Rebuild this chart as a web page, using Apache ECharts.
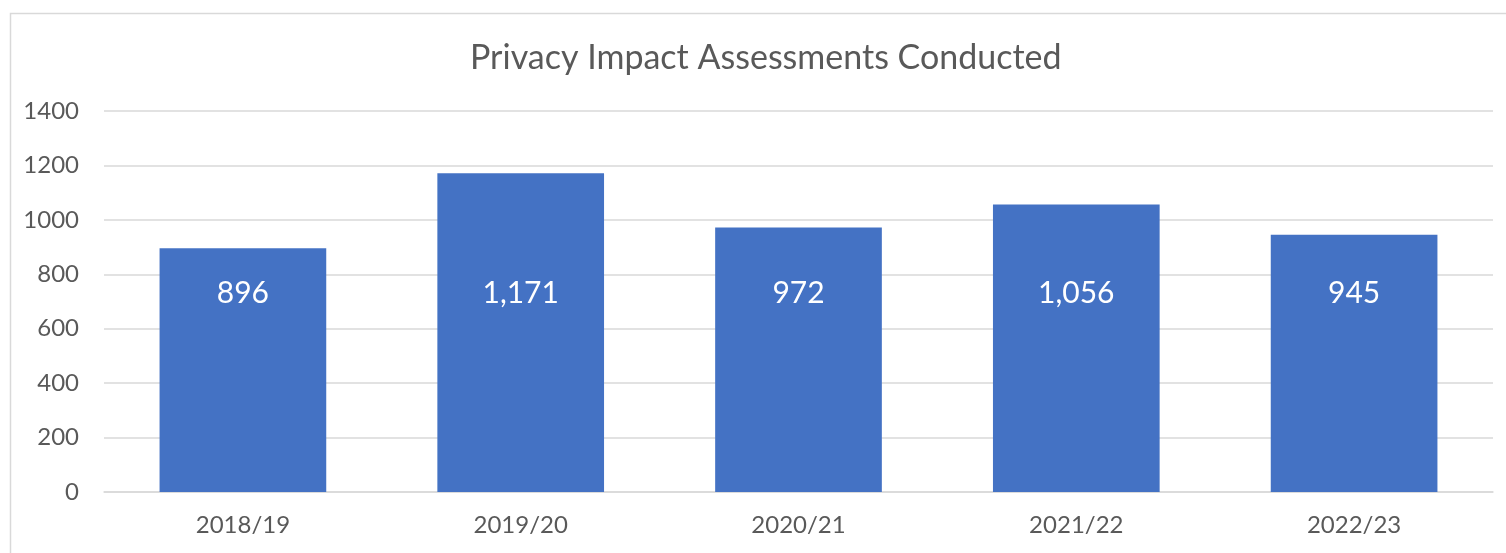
<!DOCTYPE html>
<html>
<head>
<meta charset="utf-8">
<script src="https://cdn.jsdelivr.net/npm/echarts@6/dist/echarts.min.js"></script>
<style>
  html, body { margin: 0; padding: 0; background: #fff; }
  #chart { width: 1506px; height: 553px; }
</style>
</head>
<body>
<div id="chart"></div>
<script>
// Privacy impact assessments by financial year
const years = ['2018/19', '2019/20', '2020/21', '2021/22', '2022/23'];
const assessments = [896, 1171, 972, 1056, 945];
const yTicks = { min: 0, max: 1400, step: 200 };

const chart = echarts.init(document.getElementById('chart'), null, { renderer: 'canvas' });
const font = 'Lato, "Open Sans", sans-serif';

chart.setOption({
    backgroundColor: '#fff',
    animation: false,
    title: {
        text: 'Privacy Impact Assessments Conducted',
        left: 465, top: 36,
        textStyle: { fontFamily: font, fontSize: 34, fontWeight: 'normal', color: '#595959' },
    },
    graphic: [{
        type: 'rect', left: 8, top: 11, silent: true,
        shape: { width: 1520, height: 560 },
        style: { fill: 'none', stroke: '#d9d9d9', lineWidth: 1.5 },
    }],
    grid: { left: 104, right: 13, top: 111, bottom: 61 },
    xAxis: {
        type: 'category', data: years,
        axisTick: { show: false },
        axisLine: { lineStyle: { color: '#d9d9d9', width: 1.5 } },
        axisLabel: { fontFamily: font, fontSize: 24, color: '#595959', margin: 21 },
    },
    yAxis: {
        type: 'value', min: yTicks.min, max: yTicks.max, interval: yTicks.step,
        axisLine: { show: false }, axisTick: { show: false },
        axisLabel: { fontFamily: font, fontSize: 24, color: '#595959', margin: 25, formatter: (v) => String(v) },
        splitLine: { lineStyle: { color: '#d9d9d9', width: 1.5 } },
    },
    series: [{
        type: 'bar', data: assessments, barWidth: '60%',
        itemStyle: { color: '#4472c4' },
        label: {
            show: true, position: 'insideBottom', distance: 184,
            fontFamily: font, fontSize: 30, color: '#fff',
            formatter: (p) => p.value.toLocaleString('en-US'),
        },
    }],
});
</script>
</body>
</html>
